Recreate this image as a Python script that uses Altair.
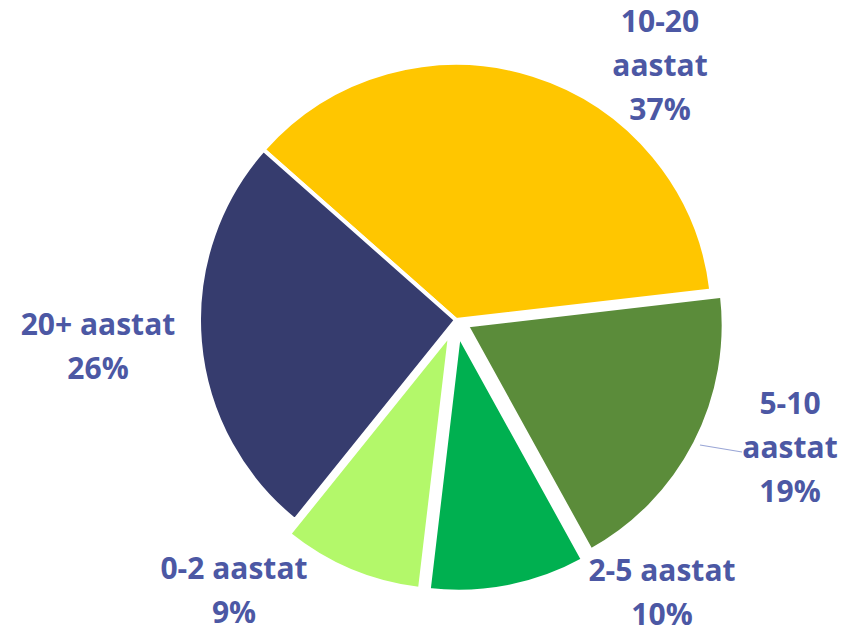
import math
import altair as alt
import pandas as pd

# ---- data ----
categories = ["10-20 aastat", "5-10 aastat", "2-5 aastat", "0-2 aastat", "20+ aastat"]
values = [37, 19, 10, 9, 26]
label_texts = ["10-20\naastat\n37%", "5-10\naastat\n19%", "2-5 aastat\n10%", "0-2 aastat\n9%", "20+ aastat\n26%"]

# ---- styling / layout ----
colors = ["#FFC600", "#5B8C3A", "#00B050", "#B3F86A", "#363C6E"]
explode = [0, 12, 15, 15, 0]           # px offset of exploded slices
label_x = [652, 782, 654, 226, 90]     # label block centres (view px)
label_y = [15, 397, 564, 562, 318]     # first-line centres (view px)
W, H = 830, 619
CX, CY, R = 448, 312, 257
START = math.radians(-48.5)
TOTAL = sum(values)

df = pd.DataFrame({"category": categories, "value": values, "order": list(range(len(values))),
                   "explode": explode})
lab = pd.DataFrame({"text": label_texts, "lx": label_x, "ly": label_y})

base = alt.Chart(df).transform_window(
    cum="sum(value)", sort=[alt.SortField("order")], frame=[None, 0]
).transform_calculate(
    start="datum.cum - datum.value",
    end="datum.cum",
).transform_calculate(
    ang=f"{START} + (datum.start + datum.value / 2) / {TOTAL} * 2 * PI",
).transform_calculate(
    ox=f"{CX} + datum.explode * sin(datum.ang)",
    oy=f"{CY} - datum.explode * cos(datum.ang)",
)

pie = base.mark_arc(outerRadius=R, stroke="#ffffff", strokeWidth=4, strokeJoin="round").encode(
    theta=alt.Theta("start:Q", stack=None,
                    scale=alt.Scale(domain=[0, TOTAL], range=[START, START + 2 * math.pi])),
    theta2="end:Q",
    x=alt.X("ox:Q", scale=None),
    y=alt.Y("oy:Q", scale=None),
    color=alt.Color("category:N", scale=alt.Scale(domain=categories, range=colors), legend=None),
)

leader = alt.Chart(pd.DataFrame({"a": [0]})).mark_rule(color="#9AA6D6", strokeWidth=1.2).encode(
    x=alt.value(692), x2=alt.value(734), y=alt.value(437), y2=alt.value(444)
)

labels = alt.Chart(lab).mark_text(
    font="Open Sans", fontWeight="bold", fontSize=30, lineHeight=44,
    color="#4C58A4", align="center", baseline="middle", lineBreak="\n"
).encode(
    x=alt.X("lx:Q", scale=None),
    y=alt.Y("ly:Q", scale=None),
    text="text:N",
)

chart = alt.layer(pie, leader, labels).properties(
    width=W, height=H, padding=0, autosize=alt.AutoSizeParams(type="none")
).configure_view(stroke=None)

chart.save("out.html", embed_options={"renderer": "svg", "actions": False})
